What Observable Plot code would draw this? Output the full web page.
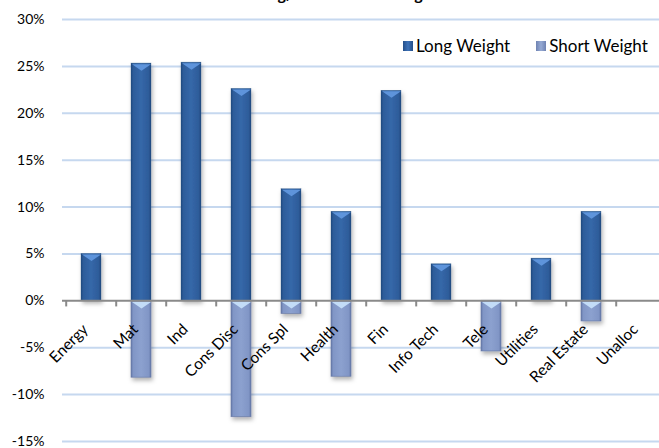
<!DOCTYPE html>
<html>
<head>
<meta charset="utf-8">
<script src="https://cdn.jsdelivr.net/npm/d3@7"></script>
<script src="https://cdn.jsdelivr.net/npm/@observablehq/plot@0.6"></script>
<style>
  html, body { margin: 0; padding: 0; background: #fff; overflow: hidden; }
  #wrap { position: relative; width: 659px; height: 448px; font-family: Lato, "Open Sans", sans-serif; overflow: hidden; }
  #title { position: absolute; top: -14px; left: -2px; width: 700px; text-align: center; font-weight: bold; font-size: 16px; line-height: 16px; color: #000; }
  #legend { position: absolute; top: 35px; left: 403px; font-size: 17px; color: #000; display: flex; align-items: center; white-space: nowrap; }
  #legend .sw { display: inline-block; width: 10px; height: 10px; margin-right: 3px; }
  #legend .item { display: flex; align-items: center; margin-right: 26px; }
</style>
</head>
<body>
<div id="wrap">
  <div id="chart"></div>
  <div id="title">Long/Short Sector Weights</div>
  <div id="legend">
    <span class="item"><span class="sw" style="background:linear-gradient(90deg,#244f8a,#3d72b8,#244f8a)"></span>Long Weight</span>
    <span class="item" style="margin-right:0"><span class="sw" style="background:linear-gradient(90deg,#6f83b2,#96aad4,#6f83b2)"></span>Short Weight</span>
  </div>
</div>
<script>
const categories = ["Energy","Mat","Ind","Cons Disc","Cons Spl","Health","Fin","Info Tech","Tele","Utilities","Real Estate","Unalloc"];
const longWeight = [5.0, 25.3, 25.4, 22.6, 11.9, 9.5, 22.4, 3.9, 0, 4.5, 9.5, 0];
const shortWeight = [0, -8.2, 0, -12.4, -1.4, -8.1, 0, 0, -5.4, 0, -2.2, 0];
const yTicks = [-15, -10, -5, 0, 5, 10, 15, 20, 25, 30];

const longData = categories.map((c, i) => ({cat: c, v: longWeight[i]})).filter(d => d.v !== 0);
const shortData = categories.map((c, i) => ({cat: c, v: shortWeight[i]})).filter(d => d.v !== 0);

const step = (669 - 62) / categories.length;
const bevel = {
  draw(ctx) {
    ctx.moveTo(-9.5, 0);
    ctx.lineTo(9.5, 0);
    ctx.lineTo(0, 6.5);
    ctx.closePath();
  }
};

const chart = Plot.plot({
  width: 659,
  height: 448,
  marginLeft: 62,
  marginRight: 0,
  marginTop: 19,
  marginBottom: 6,
  style: {fontFamily: "Lato, 'Open Sans', sans-serif", fontSize: "14px", color: "#000", background: "#fff", overflow: "hidden"},
  x: {domain: categories, range: [62, 669], padding: 0, axis: null},
  y: {domain: [-15, 30], range: [441, 19]},
  marks: [
    Plot.ruleY(yTicks.filter(t => t !== 0), {stroke: "#c6d8ef", strokeWidth: 2}),
    Plot.axisY({ticks: yTicks, tickSize: 0, tickPadding: 18, tickFormat: d => d + "%", fontSize: 14, label: null}),
    Plot.barY(longData, {x: "cat", y: "v", fill: "url(#gLong)", insetLeft: 15, insetRight: 15, stroke: "#24507f", strokeWidth: 0.5, strokeOpacity: 0.6}),
    Plot.barY(shortData, {x: "cat", y: "v", fill: "url(#gShort)", insetLeft: 15, insetRight: 15, stroke: "#5d6f9c", strokeWidth: 0.8, strokeOpacity: 0.7}),
    Plot.dot(longData, {x: "cat", y: "v", symbol: bevel, fill: "#5e94db", stroke: "none", dy: 0.6}),
    Plot.dot(shortData, {x: "cat", y: d => 0, symbol: bevel, fill: "#c3dcf7", stroke: "none", dy: 1.2}),
    Plot.ruleY([0], {stroke: "#8a8a8a", strokeWidth: 2}),
    Plot.ruleX(categories, {x: d => d, dx: -step / 2, y1: 0, y2: -0.65, stroke: "#8a8a8a", strokeWidth: 2}),
    Plot.text(categories, {x: d => d, y: 0, text: d => d, rotate: -45, textAnchor: "end", dx: -6, dy: 26, fontSize: 15.5, fill: "#000"})
  ]
});

const svg = d3.select(chart);
const defs = svg.insert("defs", ":first-child");
const gL = defs.append("linearGradient").attr("id", "gLong").attr("x1", "0").attr("x2", "1").attr("y1", "0").attr("y2", "0");
[[0, "#22497f"], [0.12, "#2d5c9a"], [0.5, "#3668a9"], [0.88, "#2d5c9a"], [1, "#22497f"]].forEach(([o, c]) => gL.append("stop").attr("offset", o).attr("stop-color", c));
const gS = defs.append("linearGradient").attr("id", "gShort").attr("x1", "0").attr("x2", "1").attr("y1", "0").attr("y2", "0");
[[0, "#687cac"], [0.12, "#8196c6"], [0.5, "#8ca1cf"], [0.88, "#8196c6"], [1, "#687cac"]].forEach(([o, c]) => gS.append("stop").attr("offset", o).attr("stop-color", c));
const f = defs.append("filter").attr("id", "shadow").attr("x", "-30%").attr("y", "-10%").attr("width", "160%").attr("height", "130%");
f.append("feDropShadow").attr("dx", 1.5).attr("dy", 3).attr("stdDeviation", 2).attr("flood-color", "#000").attr("flood-opacity", 0.3);
svg.selectAll("g[aria-label='bar']").attr("filter", "url(#shadow)");

document.getElementById("chart").appendChild(chart);
</script>
</body>
</html>
